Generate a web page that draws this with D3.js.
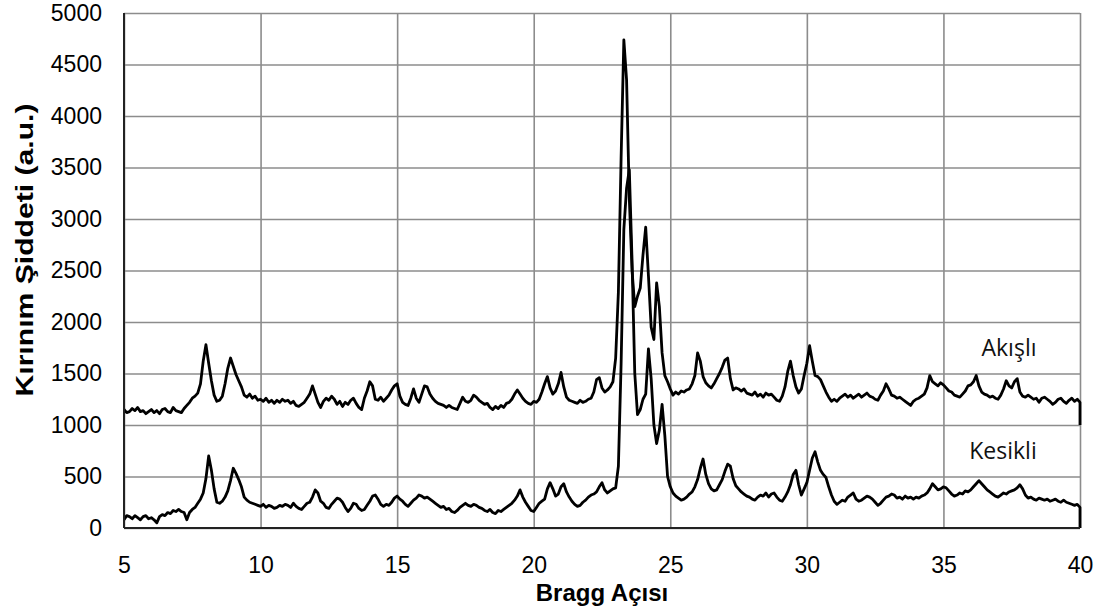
<!DOCTYPE html>
<html lang="tr">
<head>
<meta charset="utf-8">
<style>
  body { margin: 0; background: #fff; }
  svg { display: block; }
</style>
</head>
<body>
<div id="chart"></div>
<script src="https://d3js.org/d3.v7.min.js"></script>
<script>

var W = 1099, H = 615;
var margin = {top: 13, right: 19, bottom: 87, left: 124};

// angle grid: 5.0 .. 40.0, step 0.1
var angleStart = 5, angleStep = 0.1;

// Akisli (upper trace), one row per degree
var akisli = [
  1150,1120,1130,1160,1140,1170,1130,1140,1110,1130,
  1150,1120,1140,1110,1150,1160,1130,1120,1170,1140,
  1130,1120,1160,1190,1220,1260,1280,1310,1400,1620,
  1780,1600,1430,1290,1230,1240,1280,1400,1550,1650,
  1570,1490,1430,1370,1290,1270,1300,1260,1280,1240,
  1250,1230,1260,1220,1240,1210,1240,1220,1250,1230,
  1240,1210,1230,1190,1180,1200,1220,1260,1300,1380,
  1300,1220,1170,1230,1260,1240,1280,1250,1200,1230,
  1180,1220,1200,1240,1260,1210,1170,1150,1260,1330,
  1420,1380,1250,1240,1270,1230,1260,1290,1340,1380,
  1400,1280,1220,1200,1190,1260,1350,1260,1220,1300,
  1380,1370,1300,1260,1230,1210,1200,1190,1170,1190,
  1170,1160,1150,1210,1270,1230,1220,1240,1290,1270,
  1240,1220,1200,1210,1170,1150,1180,1160,1190,1170,
  1210,1220,1250,1300,1340,1300,1260,1230,1210,1200,
  1230,1220,1250,1320,1400,1470,1360,1300,1330,1400,
  1510,1370,1270,1240,1230,1220,1210,1240,1220,1230,
  1250,1260,1320,1440,1460,1360,1320,1340,1370,1420,
  1650,2290,3600,4740,4350,3200,2500,2150,2250,2330,
  2650,2920,2450,1950,1830,2380,2150,1700,1480,1420,
  1350,1290,1320,1300,1330,1320,1340,1350,1400,1480,
  1700,1620,1470,1410,1380,1360,1400,1450,1500,1560,
  1630,1650,1450,1340,1360,1350,1330,1350,1310,1300,
  1290,1320,1280,1300,1270,1310,1290,1300,1270,1240,
  1230,1280,1370,1520,1620,1480,1370,1310,1350,1480,
  1600,1770,1620,1480,1470,1440,1380,1320,1270,1230,
  1250,1230,1260,1280,1300,1270,1290,1260,1280,1300,
  1270,1290,1310,1280,1270,1250,1240,1290,1330,1400,
  1350,1290,1280,1260,1270,1250,1230,1210,1190,1230,
  1250,1260,1280,1300,1360,1480,1420,1400,1380,1410,
  1390,1360,1330,1320,1290,1280,1270,1300,1330,1380,
  1390,1420,1480,1380,1320,1300,1290,1270,1280,1260,
  1250,1290,1350,1430,1380,1360,1420,1450,1320,1280,
  1270,1290,1270,1250,1260,1220,1260,1270,1250,1230,
  1200,1220,1250,1260,1230,1210,1240,1260,1230,1250,
  1220
];

// Kesikli (lower trace)
var kesikli = [
  80,120,110,90,120,100,80,110,120,90,
  100,80,50,110,130,120,150,140,170,160,
  180,160,150,80,150,180,200,240,280,340,
  480,700,560,380,250,240,260,300,360,460,
  580,530,470,400,300,270,250,240,230,220,
  210,230,200,220,210,190,200,220,210,230,
  220,200,240,210,190,180,210,240,250,300,
  370,340,260,240,200,190,230,260,290,280,
  250,200,160,190,240,230,190,170,180,220,
  260,310,320,280,230,210,230,220,250,290,
  310,280,260,230,210,240,270,290,320,310,
  290,300,280,260,240,220,200,210,180,190,
  160,150,170,200,220,240,220,210,230,220,
  200,190,170,160,180,150,140,170,160,180,
  200,220,240,270,310,370,300,250,210,170,
  160,200,240,260,280,380,440,380,310,330,
  400,430,350,300,260,230,210,220,250,270,
  300,320,330,350,400,440,370,340,360,380,
  390,600,1600,2900,3300,3480,2600,1500,1100,1150,
  1250,1300,1740,1450,1000,820,950,1200,900,500,
  400,340,310,290,270,280,300,330,350,400,
  470,580,670,520,430,380,360,370,420,470,
  550,620,600,480,410,380,350,330,310,300,
  280,270,300,320,310,340,300,330,340,300,
  270,260,300,350,420,520,560,420,320,380,
  440,560,680,740,640,560,520,490,400,320,
  260,230,250,270,260,300,320,340,280,260,
  270,290,310,300,280,250,220,240,270,300,
  310,330,320,290,300,280,310,290,300,280,
  300,290,310,320,340,380,430,400,370,380,
  400,390,360,330,310,320,340,330,360,350,
  370,400,430,460,430,400,370,350,330,310,
  300,320,340,330,350,360,370,390,420,380,
  320,290,300,280,270,290,280,270,280,260,
  270,280,260,250,270,250,240,230,220,230,
  200
];

// recorder drops the trace at the last angle
var endDrop = [1000, 0];

var seriesNames = ["Akışlı", "Kesikli"];
var xTicks = [5, 10, 15, 20, 25, 30, 35, 40];
var yTicks = [0, 500, 1000, 1500, 2000, 2500, 3000, 3500, 4000, 4500, 5000];

var svg = d3.select("#chart").append("svg")
    .attr("width", W)
    .attr("height", H);

var x = d3.scaleLinear().domain([5, 40]).range([margin.left, W - margin.right]);
var y = d3.scaleLinear().domain([0, 5000]).range([H - margin.bottom, margin.top]);

// grid
svg.append("g")
  .attr("transform", "translate(0," + (H - margin.bottom) + ")")
  .call(d3.axisBottom(x).tickValues(xTicks).tickSize(-(H - margin.bottom - margin.top)).tickFormat(""))
  .call(g => g.select(".domain").remove())
  .selectAll("line").attr("stroke", "#8c8c8c").attr("stroke-width", 1.6);

svg.append("g")
  .attr("transform", "translate(" + margin.left + ",0)")
  .call(d3.axisLeft(y).tickValues(yTicks).tickSize(-(W - margin.right - margin.left)).tickFormat(""))
  .call(g => g.select(".domain").remove())
  .selectAll("line").attr("stroke", "#8c8c8c").attr("stroke-width", 1.6);

// tick labels
var xAxis = svg.append("g")
  .attr("transform", "translate(0," + (H - margin.bottom) + ")")
  .call(d3.axisBottom(x).tickValues(xTicks).tickSize(0).tickPadding(29).tickFormat(d3.format("d")));
xAxis.select(".domain").remove();
xAxis.selectAll("text")
  .attr("font-family", "Liberation Sans, Arial, sans-serif")
  .attr("font-size", 23).attr("fill", "#000");

var yAxis = svg.append("g")
  .attr("transform", "translate(" + margin.left + ",0)")
  .call(d3.axisLeft(y).tickValues(yTicks).tickSize(0).tickPadding(22).tickFormat(d3.format("d")));
yAxis.select(".domain").remove();
yAxis.selectAll("text")
  .attr("font-family", "Liberation Sans, Arial, sans-serif")
  .attr("font-size", 23).attr("fill", "#000");

// traces
function toPoints(vals, drop) {
  var pts = vals.map((v, i) => [angleStart + i * angleStep, v]);
  pts.push([40, drop]);
  return pts;
}

var line = d3.line()
  .x(d => x(d[0]))
  .y(d => y(d[1]));

svg.selectAll(".trace")
  .data([toPoints(akisli, endDrop[0]), toPoints(kesikli, endDrop[1])])
  .enter().append("path")
  .attr("class", "trace")
  .attr("fill", "none")
  .attr("stroke", "#000")
  .attr("stroke-width", 2.8)
  .attr("stroke-linejoin", "round")
  .attr("d", line);

// axis lines (left + bottom)
svg.append("line")
  .attr("x1", margin.left).attr("x2", margin.left)
  .attr("y1", margin.top).attr("y2", H - margin.bottom)
  .attr("stroke", "#222").attr("stroke-width", 2);
svg.append("line")
  .attr("x1", margin.left).attr("x2", W - margin.right)
  .attr("y1", H - margin.bottom).attr("y2", H - margin.bottom)
  .attr("stroke", "#222").attr("stroke-width", 2);

// series labels
var labelPos = [[1009, 1728], [1003, 728]];
svg.selectAll(".slabel")
  .data(seriesNames)
  .enter().append("text")
  .attr("class", "slabel")
  .attr("x", (d, i) => labelPos[i][0])
  .attr("y", (d, i) => y(labelPos[i][1]))
  .attr("text-anchor", "middle")
  .attr("dominant-baseline", "middle")
  .attr("font-family", "Open Sans, sans-serif")
  .attr("font-size", 23)
  .attr("fill", "#111")
  .text(d => d);

// axis titles
svg.append("text")
  .attr("x", 602)
  .attr("y", 601)
  .attr("text-anchor", "middle")
  .attr("font-family", "Liberation Sans, Arial, sans-serif")
  .attr("font-weight", "bold")
  .attr("font-size", 24)
  .text("Bragg Açısı");

svg.append("text")
  .attr("transform", "translate(33,250) rotate(-90)")
  .attr("text-anchor", "middle")
  .attr("font-family", "Liberation Sans, Arial, sans-serif")
  .attr("font-weight", "bold")
  .attr("font-size", 24)
  .attr("textLength", 293)
  .attr("lengthAdjust", "spacingAndGlyphs")
  .text("Kırınım Şiddeti (a.u.)");

</script>
</body>
</html>
